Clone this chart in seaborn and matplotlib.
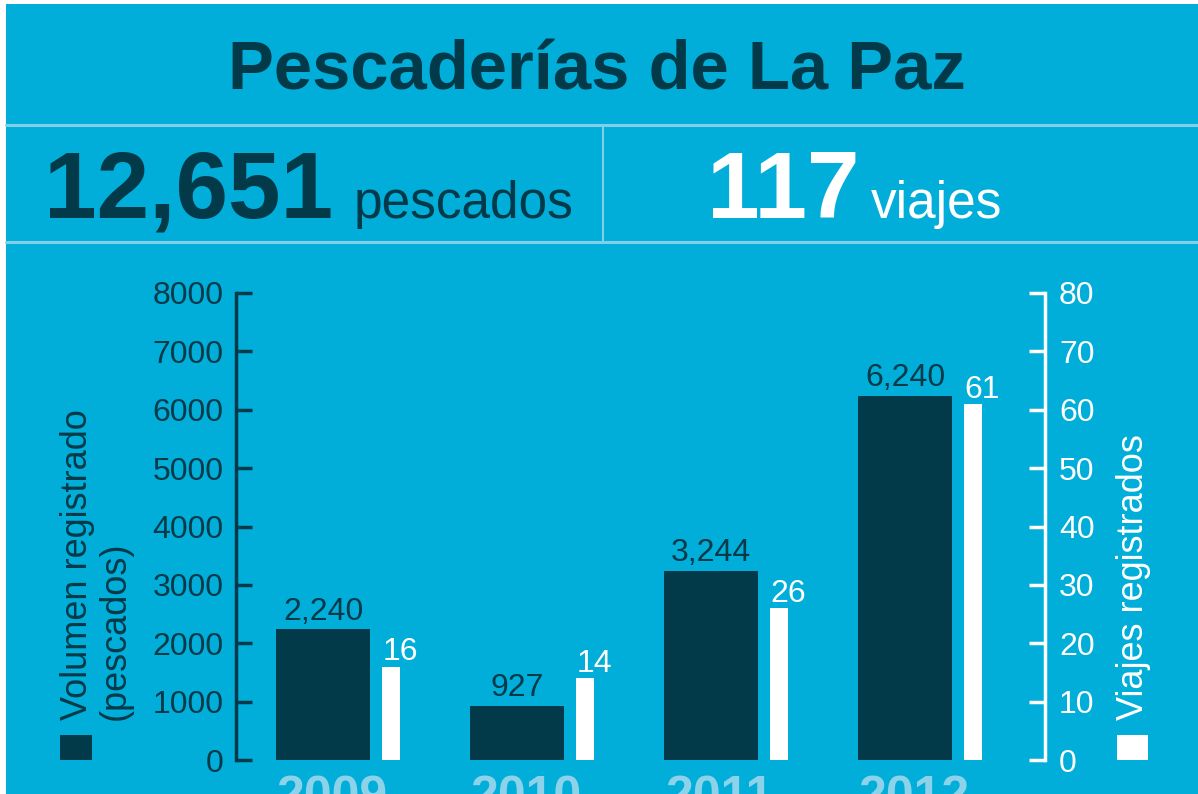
# Pescaderias de La Paz - bar chart with two y axes
import numpy as np
import pandas as pd
import matplotlib
matplotlib.use('Agg')
import matplotlib.pyplot as plt
from matplotlib.patches import Rectangle
from matplotlib.lines import Line2D
import seaborn as sns

# data
years = ['2009', '2010', '2011', '2012']
volumen = [2240, 927, 3244, 6240]
viajes = [16, 14, 26, 61]
total_pescados = '12,651'
total_viajes = '117'
vol_ticks = [0, 1000, 2000, 3000, 4000, 5000, 6000, 7000, 8000]
viaje_ticks = [0, 10, 20, 30, 40, 50, 60, 70, 80]

CYAN = '#00AED9'
DARK = '#023A49'
PALE = '#8CD3E9'
LINE = '#7FCFE8'

sns.set_theme(style='white')
plt.rcParams['font.family'] = ['Liberation Sans', 'DejaVu Sans']

W, H = 1198, 794
def fx(x):
    return x / W
def fy(y):
    return 1 - y / H

fig = plt.figure(figsize=(W / 100, H / 100), dpi=100, facecolor='white')
fig.patches.append(Rectangle((fx(6), 0), 1 - fx(6), 1 - 4 / H, transform=fig.transFigure,
                             facecolor=CYAN, edgecolor='none', zorder=-5))

# header
fig.text(fx(597), fy(90), 'Pescaderías de La Paz', ha='center', va='baseline',
         fontsize=49.5, fontweight='bold', color=DARK)
fig.text(fx(44), fy(218), total_pescados, ha='left', va='baseline',
         fontsize=68, fontweight='bold', color=DARK)
fig.text(fx(354), fy(218), 'pescados', ha='left', va='baseline', fontsize=37, color=DARK)
fig.text(fx(707), fy(218), total_viajes, ha='left', va='baseline',
         fontsize=68, fontweight='bold', color='white')
fig.text(fx(871), fy(218), 'viajes', ha='left', va='baseline', fontsize=37, color='white')

fig.add_artist(Line2D([fx(6), 1], [fy(124.5)] * 2, color=LINE, lw=2.2))
fig.add_artist(Line2D([fx(6), 1], [fy(241.5)] * 2, color=LINE, lw=2.2))
fig.add_artist(Line2D([fx(603)] * 2, [fy(124.5), fy(241.5)], color=LINE, lw=1.5))

# chart
df = pd.DataFrame({'Año': years, 'Volumen': volumen, 'Viajes': viajes})
ax = fig.add_axes([fx(236), fy(760), (1045 - 236) / W, (760 - 293) / H])
ax.patch.set_visible(False)
sns.barplot(data=df, x='Año', y='Volumen', color=DARK, saturation=1, width=0.485,
            linewidth=0, ax=ax)

ax2 = ax.twinx()
offset = 0.3505
wbar = 0.088
xpos = np.arange(len(years))
ax2.bar(xpos + offset, df['Viajes'], width=wbar, color='white', linewidth=0)

ax.set_xlim(-0.4485, 3.7216)
ax.set_ylim(0, 8000)
ax2.set_ylim(0, 80)
ax.set_yticks(vol_ticks)
ax2.set_yticks(viaje_ticks)
ax.set_xlabel('')
ax.set_ylabel('')
ax.grid(False)
ax2.grid(False)

for s in ['top', 'right', 'bottom']:
    ax.spines[s].set_visible(False)
for s in ['top', 'left', 'bottom']:
    ax2.spines[s].set_visible(False)
ax.spines['left'].set_color(DARK)
ax.spines['left'].set_linewidth(2.5)
ax2.spines['right'].set_visible(True)
ax2.spines['right'].set_color('white')
ax2.spines['right'].set_linewidth(2.5)

ax.tick_params(axis='y', direction='in', length=11.5, width=2.5, color=DARK,
               labelcolor=DARK, labelsize=23, pad=9, left=True)
ax2.tick_params(axis='y', direction='in', length=11.5, width=2.5, color='white',
                labelcolor='white', labelsize=23, pad=10)

ax.set_xticks(xpos + 0.046, years)
ax.tick_params(axis='x', length=0, labelsize=36, labelcolor=PALE, pad=11)
for lab in ax.get_xticklabels():
    lab.set_fontweight('bold')

# value labels
for i, v in enumerate(volumen):
    ax.annotate(f'{v:,}', (i, v), xytext=(0, 7), textcoords='offset points',
                ha='center', va='baseline', fontsize=23, color=DARK)
for i, v in enumerate(viajes):
    ax2.annotate(f'{v}', (i + offset - wbar / 2, v), xytext=(0, 4.5), textcoords='offset points',
                 ha='left', va='baseline', fontsize=23, color='white')

# axis titles and legend squares
fig.text(fx(60), fy(720), 'Volumen registrado\n(pescados)', rotation=90, ha='left', va='bottom',
         multialignment='left', fontsize=26, color=DARK, linespacing=1.1)
fig.text(fx(1116), fy(720), 'Viajes registrados', rotation=90, ha='left', va='bottom',
         fontsize=26, color='white')
fig.patches.append(Rectangle((fx(60), fy(760)), 32 / W, 25 / H, transform=fig.transFigure,
                             facecolor=DARK, edgecolor='none'))
fig.patches.append(Rectangle((fx(1117), fy(760)), 31 / W, 25 / H, transform=fig.transFigure,
                             facecolor='white', edgecolor='none'))

fig.savefig('out.png', dpi=100)
